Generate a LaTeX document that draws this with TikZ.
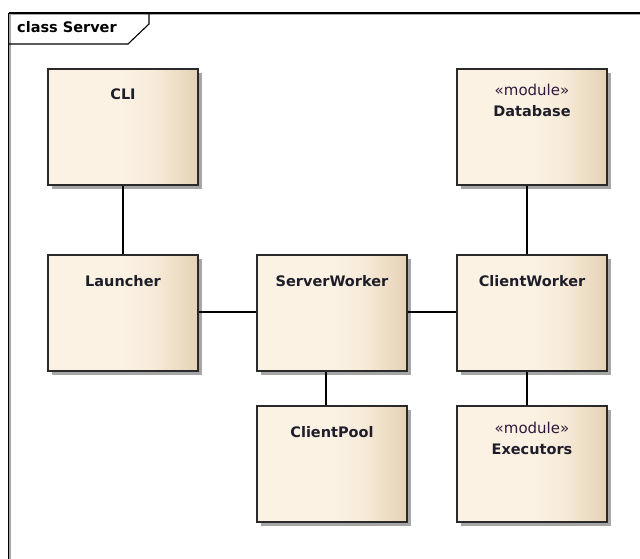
\documentclass[tikz,border=0pt]{standalone}
\usepackage{fontspec}
\setmainfont{DejaVu Sans}
\usetikzlibrary{shadows}

\definecolor{bgL}{HTML}{FBF2E4}
\definecolor{bgM}{HTML}{F7EBD9}
\definecolor{bgR}{HTML}{E5D2B5}
\definecolor{edge}{HTML}{2A2A2A}
\definecolor{ink}{HTML}{1E1E2A}

% warm left-to-right fill used by the class boxes
\pgfdeclarehorizontalshading{classfill}{100bp}{%
  color(0bp)=(bgL); color(25bp)=(bgL); color(50bp)=(bgL);
  color(60bp)=(bgM); color(75bp)=(bgR); color(100bp)=(bgR)}

\tikzset{
  classbox/.style={draw=edge, line width=1.5pt, shading=classfill,
    minimum width=150pt, minimum height=116pt, inner sep=0pt,
    drop shadow={shadow xshift=4pt, shadow yshift=-4pt, fill=black!35, opacity=1}},
  title/.style={anchor=base, font=\fontsize{14.5}{16}\selectfont\bfseries, text=ink, inner sep=0pt},
  stereo/.style={anchor=base, font=\fontsize{15}{16}\selectfont, text=ink!80!violet, inner sep=0pt},
  link/.style={draw=black, line width=1.3pt},
}

\begin{document}
\begin{tikzpicture}[x=1pt, y=-1pt]
\useasboundingbox (0,0) rectangle (640,559);
\fill[white] (0,0) rectangle (640,559);

% package frame with its name tab
\draw[black!35, line width=1.2pt] (9.5,14.5) -- (640,14.5);
\draw[black!35, line width=1.2pt] (10,14.5) -- (10,559);
\draw[black, line width=1.3pt] (8.5,13) -- (640,13);
\draw[black, line width=1.3pt] (8.5,13) -- (8.5,559);
\draw[black, line width=1.1pt] (149,13) -- (149,24) -- (128,44) -- (8.5,44);
\node[anchor=base west, font=\fontsize{14.5}{16}\selectfont\bfseries, inner sep=0pt] (frametitle) at (17,33) {class Server};

% classes
\node[classbox] (cli) at (123,127) {};
\node[classbox] (db)  at (532,127) {};
\node[classbox] (la)  at (123,313) {};
\node[classbox] (sw)  at (332,313) {};
\node[classbox] (cw)  at (532,313) {};
\node[classbox] (cp)  at (332,464) {};
\node[classbox] (ex)  at (532,464) {};

\node[title]  (clit) at ([yshift=27pt]cli.center) {CLI};
\node[stereo] (dbs)  at ([yshift=31pt]db.center) {«module»};
\node[title]  (dbt)  at ([yshift=10pt]db.center) {Database};
\node[title]  (lat)  at ([yshift=27pt]la.center) {Launcher};
\node[title]  (swt)  at ([yshift=27pt]sw.center) {ServerWorker};
\node[title]  (cwt)  at ([yshift=27pt]cw.center) {ClientWorker};
\node[title]  (cpt)  at ([yshift=27pt]cp.center) {ClientPool};
\node[stereo] (exs)  at ([yshift=31pt]ex.center) {«module»};
\node[title]  (ext)  at ([yshift=10pt]ex.center) {Executors};

% associations
\draw[link] (cli.south) -- (la.north);
\draw[link] ([yshift=1pt]la.east) -- ([yshift=1pt]sw.west);
\draw[link] ([yshift=1pt]sw.east) -- ([yshift=1pt]cw.west);
\draw[link] ([xshift=-5pt]db.south) -- ([xshift=-5pt]cw.north);
\draw[link] ([xshift=-6pt]sw.south) -- ([xshift=-6pt]cp.north);
\draw[link] ([xshift=-5pt]cw.south) -- ([xshift=-5pt]ex.north);
\end{tikzpicture}
\end{document}
